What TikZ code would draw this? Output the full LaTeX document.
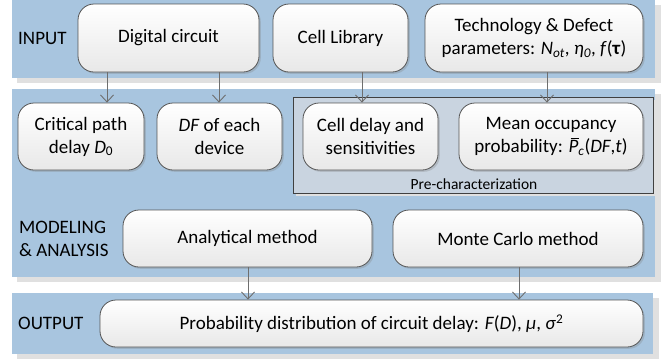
\documentclass[tikz,border=0pt]{standalone}
\usepackage{fontspec}
\setmainfont{Carlito}
\usetikzlibrary{arrows.meta,shadows}

\definecolor{panelblue}{RGB}{168,197,223}
\definecolor{panelshade}{RGB}{224,224,224}
\definecolor{prefill}{RGB}{201,212,224}
\definecolor{edgegray}{RGB}{85,85,85}
\definecolor{arrowgray}{RGB}{110,110,110}

% italic P with a bar over it
\newcommand{\Pbar}{\makebox[0pt][l]{\hspace{0.1em}\rule[0.72em]{0.45em}{0.06em}}\textit{P}}

\begin{document}
\begin{tikzpicture}[x=1pt,y=-1pt,
  panel/.style={fill=panelblue},
  panelshadow/.style={fill=panelshade},
  box/.style={draw=edgegray, line width=0.8pt, rounded corners=16pt,
    top color=white, bottom color=black!9, align=center,
    font=\fontsize{19}{23}\selectfont, inner sep=0pt,
    drop shadow={shadow xshift=1.8pt, shadow yshift=-1.8pt, opacity=0.3}},
  lbl/.style={font=\fontsize{19}{23}\selectfont, inner sep=0pt, align=left},
  arr/.style={draw=arrowgray, line width=0.9pt,
    -{Straight Barb[length=7pt,width=13pt,line width=0.9pt]}}
]
\useasboundingbox (0,0) rectangle (667,360);

% band backgrounds with their grey offsets
\fill[panelshadow] (17,5) rectangle (661,83);
\fill[panel] (12,0) rectangle (655,78);
\fill[panelshadow] (17,94) rectangle (661,282);
\fill[panel] (12,89) rectangle (655,277);
\fill[panelshadow] (17,298) rectangle (659,359);
\fill[panel] (12,293) rectangle (653,354);

% pre-characterization group
\fill[black!12] (296,100) rectangle (658,196);
\draw[draw=black!75, fill=prefill, line width=0.8pt] (293,97) rectangle (653,193);
\node[font=\fontsize{15.5}{18}\selectfont, inner sep=0pt] (prelbl) at (474,184) {Pre-characterization};

% band titles
\node[lbl, anchor=west] (tin) at (18,38) {INPUT};
\node[lbl, anchor=west] (tmod) at (19,239) {MODELING\\\& ANALYSIS};
\node[lbl, anchor=west] (tout) at (18,323) {OUTPUT};

% input row
\node[box, minimum width=181pt, minimum height=68pt] (dc) at (168.5,38) {Digital circuit};
\node[box, minimum width=135pt, minimum height=68pt] (cl) at (340.5,38) {Cell Library};
\node[box, minimum width=218pt, minimum height=68pt] (td) at (534,38)
  {Technology \& Defect\\parameters: \textit{N}\textsubscript{\textit{ot}}, \textit{η}\textsubscript{\textit{0}}, \textit{f}(\textbf{τ})};

% derived quantities
\node[box, minimum width=126pt, minimum height=67pt] (cp) at (81,136.5)
  {Critical path\\delay \textit{D}\textsubscript{0}};
\node[box, minimum width=125pt, minimum height=67pt] (df) at (219.5,136.5)
  {\textit{DF} of each\\device};
\node[box, minimum width=135pt, minimum height=67pt] (cd) at (370.5,136.5)
  {Cell delay and\\sensitivities};
\node[box, minimum width=184pt, minimum height=67pt] (mo) at (551,136.5)
  {Mean occupancy\\probability: \Pbar\textsubscript{\textit{c}}(\textit{DF},\textit{t})};

% methods
\node[box, minimum width=249pt, minimum height=57pt] (am) at (247.5,238.5) {Analytical method};
\node[box, minimum width=250pt, minimum height=57pt] (mc) at (518,238.5) {Monte Carlo method};

% result
\node[box, minimum width=543pt, minimum height=47pt] (pd) at (371.5,323.5)
  {Probability distribution of circuit delay: \textit{F}(\textit{D}), \textit{μ}, \textit{σ}\textsuperscript{2}};

% connectors
\draw[arr] (dc.south -| 107,0) -- (cp.north -| 107,0);
\draw[arr] (dc.south -| 219,0) -- (df.north -| 219,0);
\draw[arr] (cl.south -| 362,0) -- (cd.north -| 362,0);
\draw[arr] (td.south -| 547,0) -- (mo.north -| 547,0);
\draw[arr] (am.south -| 248,0) -- (pd.north -| 248,0);
\draw[arr] (mc.south -| 519,0) -- (pd.north -| 519,0);
\end{tikzpicture}
\end{document}
